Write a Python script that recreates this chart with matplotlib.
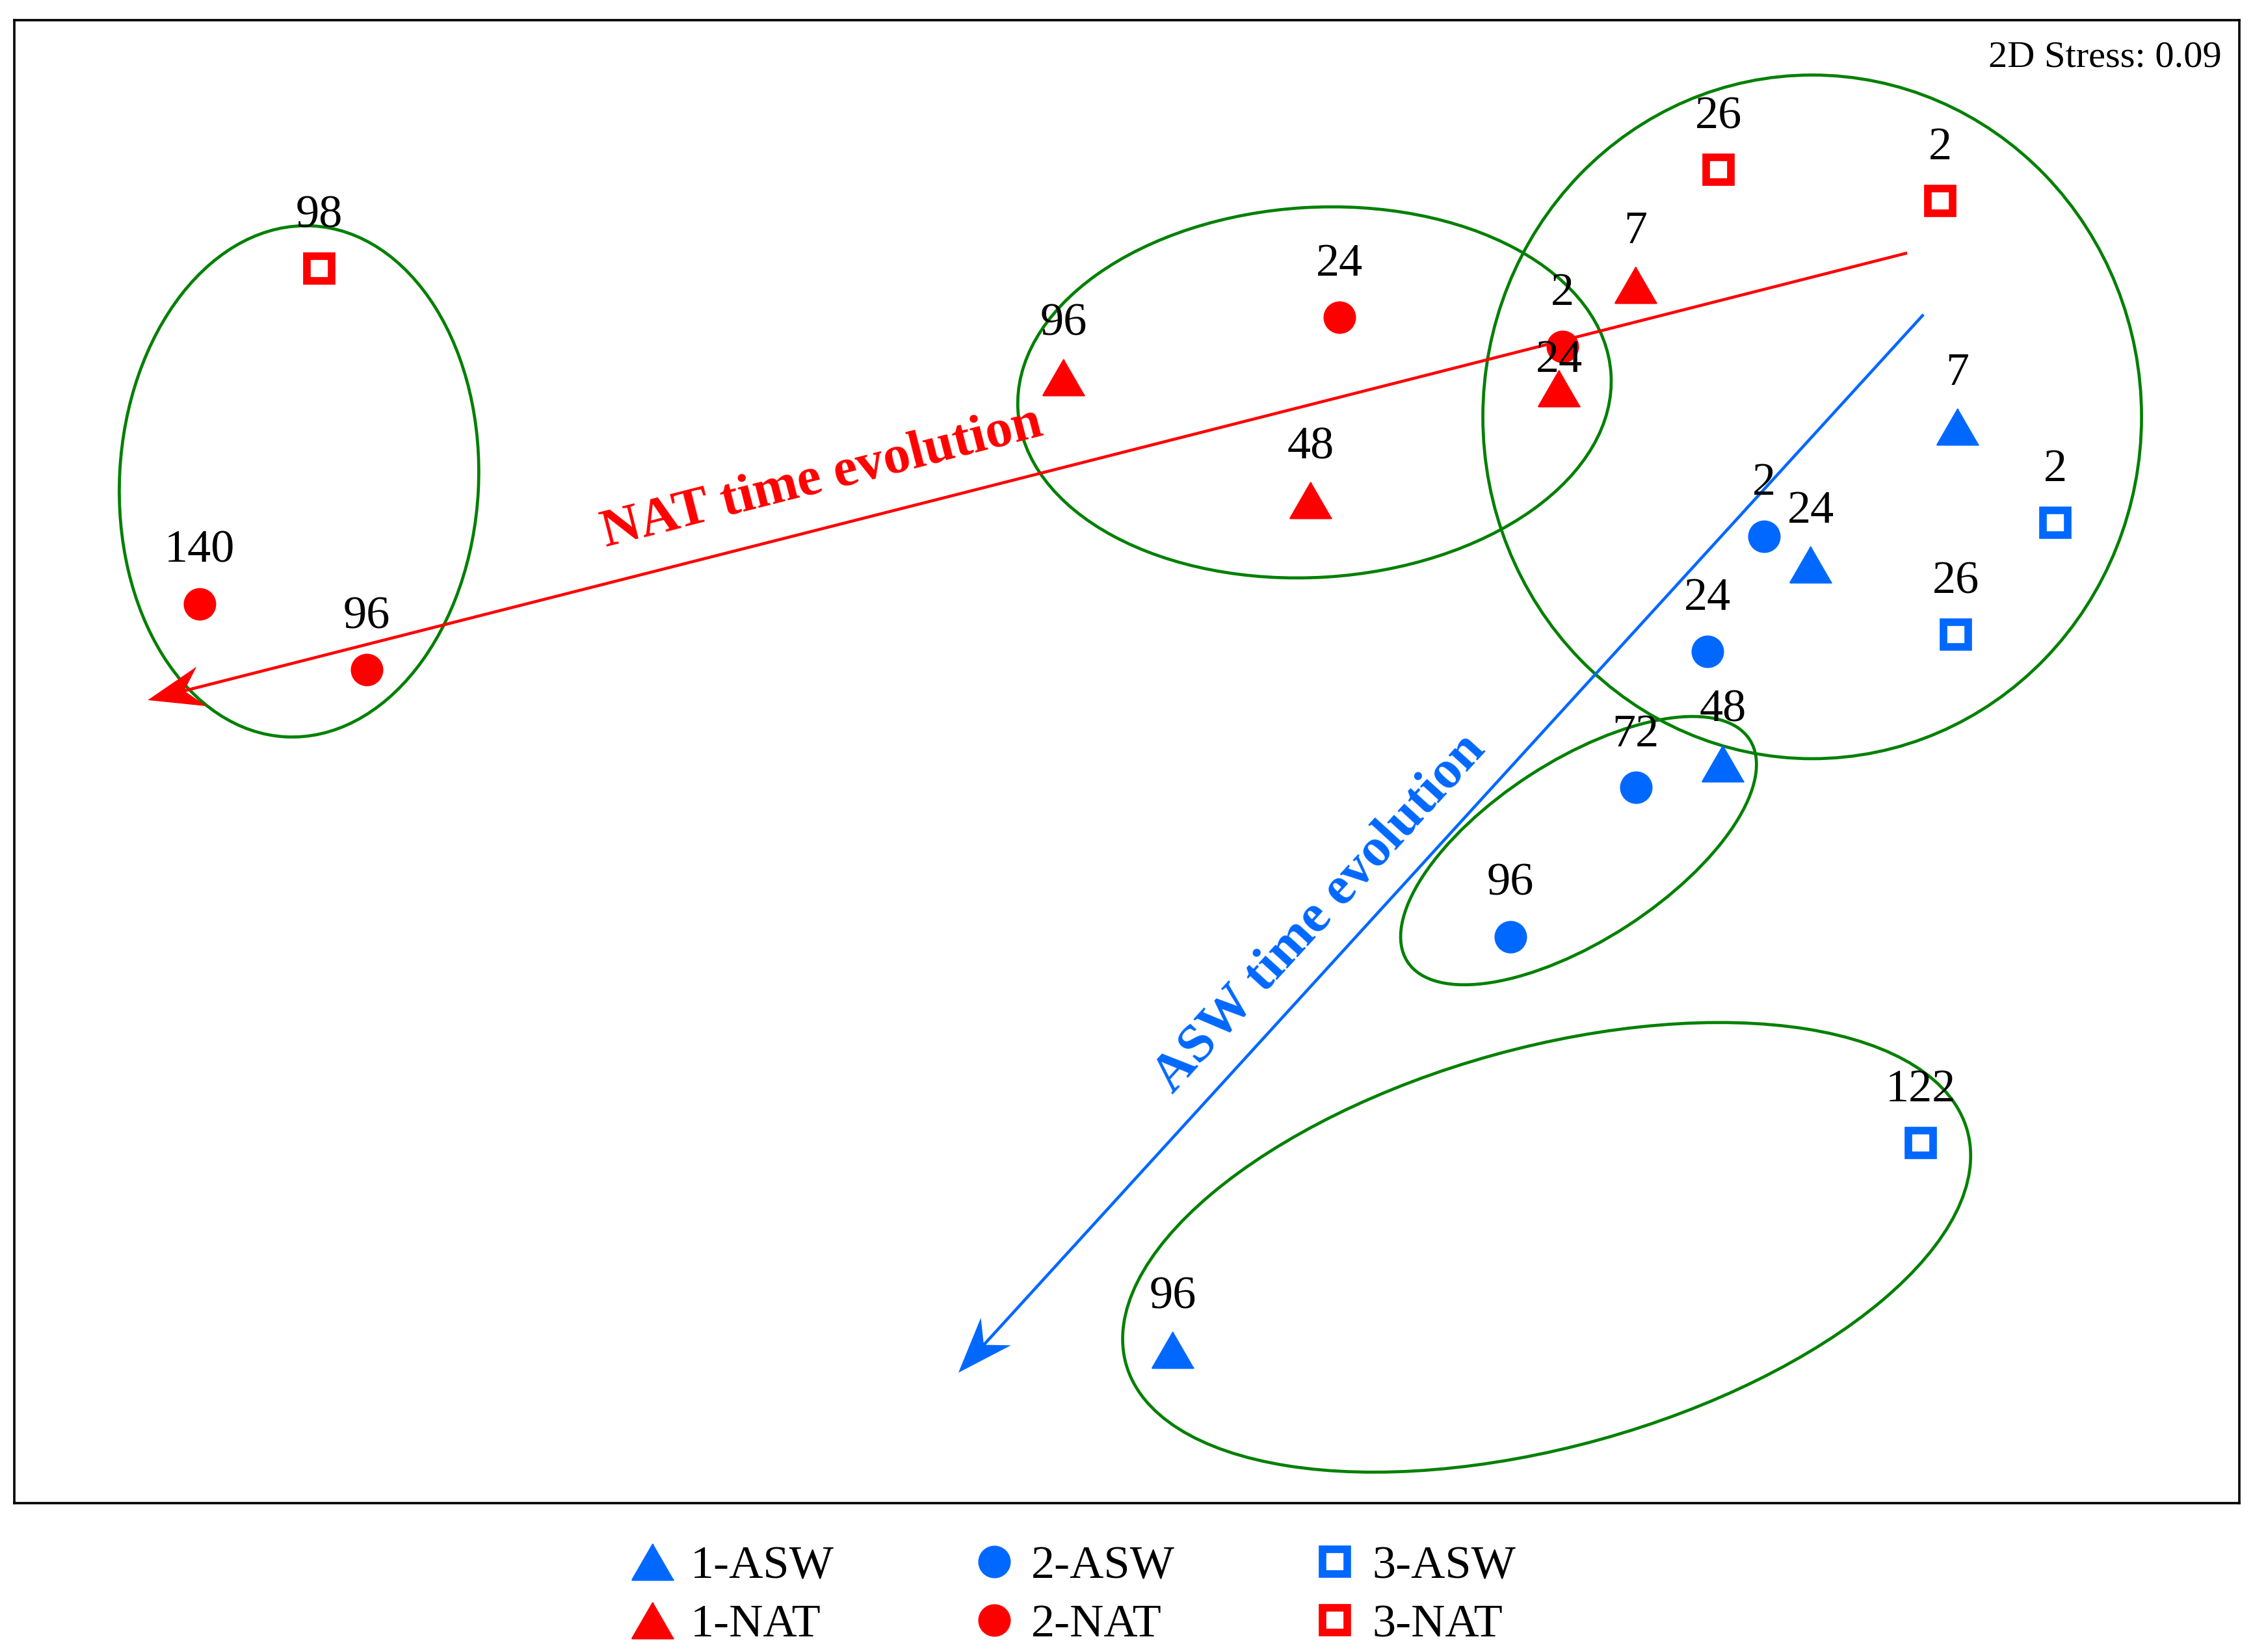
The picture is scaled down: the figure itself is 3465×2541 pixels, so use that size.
import matplotlib
matplotlib.use("Agg")
import matplotlib.pyplot as plt
from matplotlib.patches import Ellipse
from matplotlib.lines import Line2D

# nMDS coordinates (arbitrary units)
asw1_x = [1.120, 0.922, 0.804, 0.062]
asw1_y = [0.452, 0.266, -0.002, -0.793]
asw1_t = ['7', '24', '48', '96']

asw2_x = [0.859, 0.783, 0.686, 0.517]
asw2_y = [0.304, 0.149, -0.035, -0.236]
asw2_t = ['2', '24', '72', '96']

asw3_x = [1.252, 1.118, 1.070]
asw3_y = [0.322, 0.171, -0.514]
asw3_t = ['2', '26', '122']

nat1_x = [0.686, 0.583, 0.248, -0.085]
nat1_y = [0.643, 0.504, 0.353, 0.519]
nat1_t = ['7', '24', '48', '96']

nat2_x = [0.587, 0.287, -1.025, -1.250]
nat2_y = [0.560, 0.599, 0.124, 0.213]
nat2_t = ['2', '24', '96', '140']

nat3_x = [1.097, 0.798, -1.089]
nat3_y = [0.756, 0.798, 0.665]
nat3_t = ['2', '26', '98']

# cluster ellipses: centre x, centre y, width, height, angle
clusters = [
    (-1.116, 0.378, 0.484, 0.690, -3),
    (0.253, 0.498, 0.801, 0.499, 3.5),
    (0.924, 0.465, 0.888, 0.922, 0),
    (0.609, -0.120, 0.550, 0.242, 33),
    (0.566, -0.655, 1.177, 0.538, 15.5),
]

# trend arrows (start, tip)
nat_arrow = ((1.052, 0.686), (-1.320, 0.083))
asw_arrow = ((1.074, 0.603), (-0.227, -0.824))

BLUE = '#0068ff'
RED = '#ff0000'
GREEN = '#008000'
tri = [(0, 0.866), (-1, -0.866), (1, -0.866)]

plt.rcParams['font.family'] = 'Liberation Serif'
fig = plt.figure(figsize=(17.33, 12.705), dpi=200)
ax = fig.add_axes([0.0063, 0.0901, 0.9874, 0.8977])
ax.set_xlim(-1.5, 1.5)
ax.set_ylim(-1.0, 1.0)
ax.set_xticks([])
ax.set_yticks([])
for s in ax.spines.values():
    s.set_linewidth(1.3)

for cx, cy, w, h, a in clusters:
    ax.add_patch(Ellipse((cx, cy), w, h, angle=a, fill=False,
                         edgecolor=GREEN, lw=1.7, zorder=1))

for (x0, y0), (x1, y1), col in [(nat_arrow[0], nat_arrow[1], RED),
                                (asw_arrow[0], asw_arrow[1], BLUE)]:
    ax.arrow(x0, y0, x1 - x0, y1 - y0, width=0.004, head_width=0.055,
             head_length=0.075, overhang=0.3, length_includes_head=True,
             facecolor=col, edgecolor='none', zorder=2)

ax.text(-0.411, 0.382, 'NAT time evolution', color=RED, fontsize=30,
        fontweight='bold', rotation=14.3, ha='center', va='center',
        rotation_mode='anchor')
ax.text(0.260, -0.205, 'ASW time evolution', color=BLUE, fontsize=30,
        fontweight='bold', rotation=47.6, ha='center', va='center',
        rotation_mode='anchor')

series = [
    ('1-ASW', asw1_x, asw1_y, asw1_t, BLUE, 'tri'),
    ('2-ASW', asw2_x, asw2_y, asw2_t, BLUE, 'o'),
    ('3-ASW', asw3_x, asw3_y, asw3_t, BLUE, 's'),
    ('1-NAT', nat1_x, nat1_y, nat1_t, RED, 'tri'),
    ('2-NAT', nat2_x, nat2_y, nat2_t, RED, 'o'),
    ('3-NAT', nat3_x, nat3_y, nat3_t, RED, 's'),
]

handles = {}
for name, xs, ys, ts, col, m in series:
    if m == 'tri':
        kw = dict(marker=tri, markersize=23, color=col)
    elif m == 'o':
        kw = dict(marker='o', markersize=17, color=col)
    else:
        kw = dict(marker='s', markersize=13.8, markeredgewidth=4.2,
                  markeredgecolor=col, markerfacecolor='white')
    ax.plot(xs, ys, linestyle='none', zorder=3, **kw)
    handles[name] = Line2D([], [], linestyle='none', **kw)
    for x, y, t in zip(xs, ys, ts):
        off = 23
        if name == '1-NAT' and t == '24':
            off = 9
        ax.annotate(t, (x, y), xytext=(0, off), textcoords='offset points',
                    ha='center', va='baseline', fontsize=26, zorder=4)

ax.text(0.992, 0.986, '2D Stress: 0.09', transform=ax.transAxes,
        ha='right', va='top', fontsize=21)

order = ['1-ASW', '1-NAT', '2-ASW', '2-NAT', '3-ASW', '3-NAT']
fig.legend([handles[k] for k in order], order, ncol=3, frameon=False,
           loc='center', bbox_to_anchor=(0.476, 0.034), fontsize=26,
           handlelength=1.0, handletextpad=0.3, columnspacing=2.9,
           labelspacing=0.33)

fig.savefig('out.png', dpi=200)
